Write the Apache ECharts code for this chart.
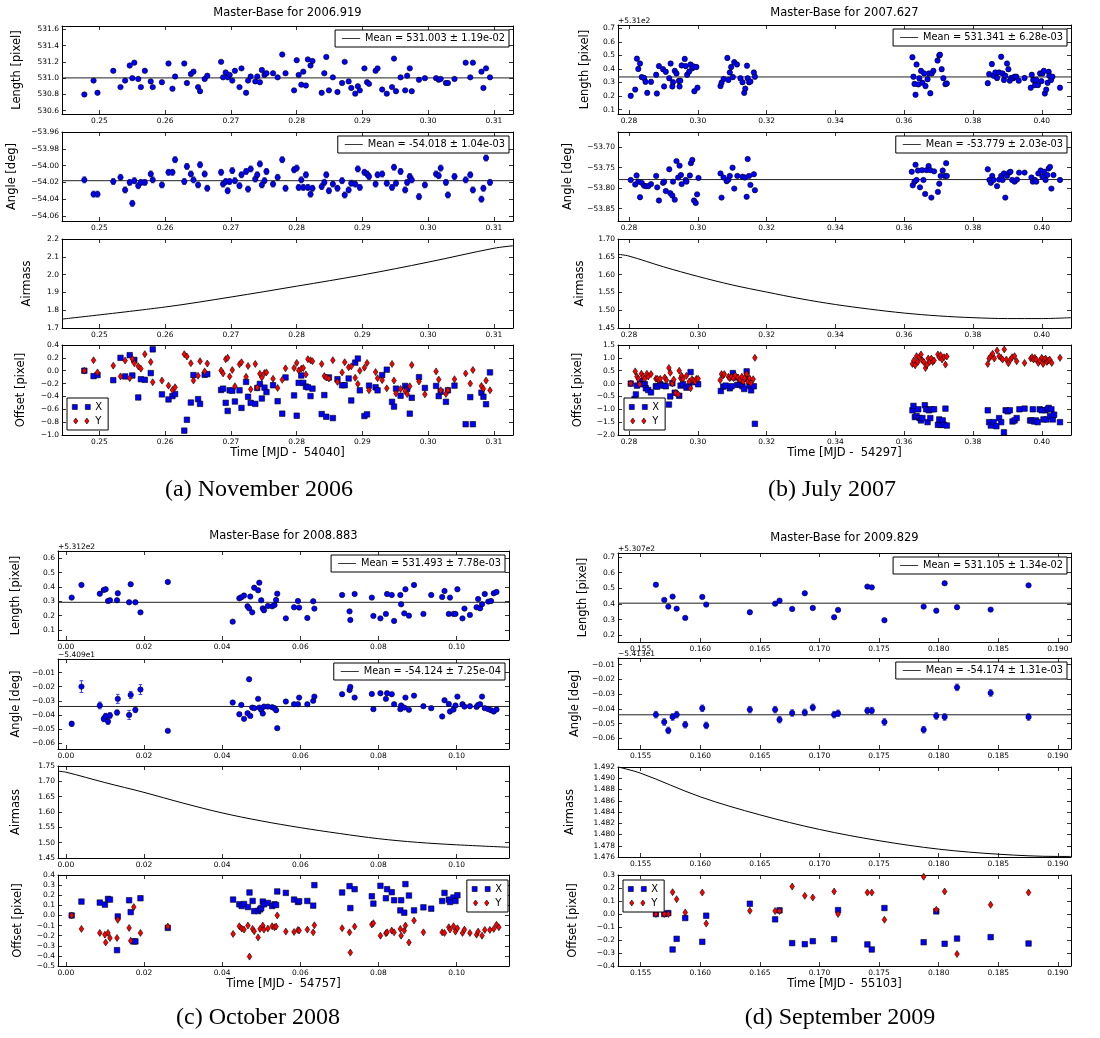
<!DOCTYPE html>
<html>
<head>
<meta charset="utf-8">
<title>Master-Base monitoring</title>
<script src="https://cdn.jsdelivr.net/npm/echarts@6/dist/echarts.min.js"></script>
<style>
  html, body { margin: 0; padding: 0; background: #fff; }
  #chart { width: 1100px; height: 1038px; }
</style>
</head>
<body>
<div id="chart"></div>
<script>
// ---------------- Panel (a): November 2006, MJD 54040 ----------------
const titleA = 'Master-Base for 2006.919';
const captionA = '(a) November 2006';
const xNameA = 'Time [MJD -  54040]';
const timeA = [0.2477,0.2491,0.2497,0.2521,0.2532,0.2539,0.2546,0.2550,0.2553,0.2559,
  0.2563,0.2569,0.2578,0.2581,0.2595,0.2605,0.2611,0.2615,0.2629,0.2633,
  0.2639,0.2643,0.2650,0.2653,0.2660,0.2664,0.2685,0.2688,0.2692,0.2695,
  0.2698,0.2702,0.2706,0.2713,0.2716,0.2723,0.2726,0.2730,0.2737,0.2740,
  0.2744,0.2747,0.2751,0.2754,0.2764,0.2771,0.2778,0.2783,0.2796,0.2800,
  0.2803,0.2807,0.2810,0.2814,0.2817,0.2821,0.2824,0.2838,0.2842,0.2845,
  0.2849,0.2855,0.2862,0.2869,0.2873,0.2879,0.2883,0.2889,0.2893,0.2896,
  0.2903,0.2907,0.2910,0.2920,0.2923,0.2930,0.2937,0.2945,0.2948,0.2951,
  0.2958,0.2965,0.2968,0.2972,0.2975,0.2986,0.2995,0.3012,0.3016,0.3019,
  0.3027,0.3030,0.3040,0.3057,0.3064,0.3068,0.3081,0.3084,0.3088,0.3094];
const lengthA = [530.80,530.97,530.82,531.09,530.89,530.97,531.155,531.00,531.19,530.99,
  530.89,531.09,530.96,530.89,530.95,531.18,530.87,531.02,531.18,530.94,
  531.05,531.08,530.89,530.84,530.99,531.03,531.20,531.01,531.07,531.01,
  531.04,530.97,531.09,530.89,531.12,530.82,530.97,531.02,530.96,531.02,
  530.95,531.10,531.04,531.06,531.06,531.01,531.29,531.06,530.85,531.22,
  531.04,530.92,531.08,530.91,531.23,531.155,531.21,530.82,531.06,531.26,
  530.85,531.01,530.83,530.94,531.20,530.96,530.88,530.81,530.90,530.85,
  531.12,530.95,530.93,531.09,531.12,530.86,530.81,530.89,531.24,530.84,
  531.01,530.85,531.03,531.12,530.84,530.98,531.00,531.00,530.98,530.99,
  530.94,530.94,530.99,531.19,531.01,531.19,531.08,530.88,531.12,531.01];
const angleA = [-54.017,-54.034,-54.034,-54.019,-54.014,-54.029,-54.020,-54.045,-54.018,-54.024,
  -54.020,-54.020,-54.010,-54.017,-54.023,-54.008,-54.008,-53.993,-54.019,-54.001,
  -54.010,-54.017,-54.023,-53.999,-54.010,-54.027,-54.008,-54.022,-54.019,-54.030,
  -54.019,-54.006,-54.018,-54.024,-54.011,-54.007,-54.028,-54.004,-54.016,-54.011,
  -53.998,-54.023,-54.018,-54.007,-54.022,-54.014,-53.993,-54.027,-54.005,-54.003,
  -54.026,-54.017,-54.026,-54.011,-54.026,-54.034,-54.027,-54.025,-54.020,-54.011,
  -54.030,-54.022,-54.027,-54.018,-54.035,-54.029,-54.021,-54.022,-54.004,-54.026,
  -54.008,-54.010,-54.013,-54.022,-54.011,-54.010,-54.021,-54.026,-54.002,-54.021,
  -54.007,-54.029,-54.020,-54.013,-54.017,-54.037,-54.023,-54.010,-54.012,-54.003,
  -54.020,-54.035,-54.013,-54.017,-54.011,-54.029,-54.040,-54.027,-53.991,-54.020];
const angleErrA = 0.0035;
const offXA = [0.0,-0.084,-0.068,-0.147,0.2,-0.089,0.242,-0.074,0.168,-0.416,
  -0.132,-0.142,-0.037,0.332,-0.368,-0.447,-0.395,-0.363,-0.932,-0.763,
  -0.495,-0.068,-0.442,-0.516,-0.063,-0.053,-0.3,-0.279,-0.5,-0.626,
  -0.305,-0.311,-0.479,-0.305,-0.579,-0.174,-0.405,-0.5,-0.516,-0.268,
  -0.205,-0.432,-0.263,-0.332,-0.226,-0.474,-0.668,-0.105,-0.384,-0.7,
  -0.189,-0.074,-0.189,-0.247,-0.258,-0.395,-0.279,-0.674,-0.379,-0.716,
  -0.105,-0.737,-0.132,-0.226,-0.226,-0.121,-0.463,0.126,0.189,-0.305,
  -0.705,-0.679,-0.232,-0.258,-0.305,-0.068,0.016,-0.484,-0.558,-0.279,
  -0.389,-0.237,-0.284,-0.668,-0.421,-0.1,-0.268,-0.237,-0.395,-0.326,
  -0.484,-0.305,-0.232,-0.832,-0.411,-0.832,-0.342,-0.405,-0.521,-0.026];
const offYA = [0.0,0.163,-0.026,0.079,-0.089,0.158,-0.116,0.184,0.116,0.068,
  0.032,0.258,0.137,-0.179,-0.153,-0.232,-0.3,-0.258,0.258,0.221,
  0.116,-0.153,-0.079,0.147,-0.011,0.111,0.005,-0.042,0.179,0.2,
  -0.089,0.011,-0.242,0.1,0.132,-0.095,0.074,-0.289,0.105,-0.263,
  -0.047,-0.105,-0.037,-0.026,-0.126,-0.268,-0.142,0.037,0.042,0.121,
  0.005,0.032,0.042,-0.058,0.179,0.163,0.147,0.105,-0.084,-0.105,
  -0.121,0.163,-0.174,-0.026,0.132,0.053,0.068,-0.111,-0.205,0.0,
  0.047,0.121,-0.305,-0.021,-0.116,-0.147,-0.274,0.105,-0.153,-0.353,
  -0.284,-0.316,-0.363,-0.242,0.089,-0.168,-0.368,-0.011,-0.137,-0.305,
  -0.363,-0.305,-0.132,-0.042,-0.2,0.011,-0.237,-0.279,-0.153,-0.305];
const airTimeA = [0.2443,0.26,0.27,0.28,0.29,0.30,0.31,0.3129];
const airmassA = [1.750,1.818,1.874,1.935,1.998,2.070,2.148,2.162];
const meanLenA = 531.003, meanLenErrA = 0.0119;
const meanAngA = -54.018, meanAngErrA = 0.00104;
const ticksXA = [0.25,0.26,0.27,0.28,0.29,0.30,0.31];
const ticksLenA = [530.6,530.8,531.0,531.2,531.4,531.6];
const ticksAngA = [-54.06,-54.04,-54.02,-54.00,-53.98,-53.96];
const ticksAirA = [1.7,1.8,1.9,2.0,2.1,2.2];
const ticksOffA = [-1.0,-0.8,-0.6,-0.4,-0.2,0.0,0.2,0.4];

// ---------------- Panel (b): July 2007, MJD 54297 ----------------
const titleB = 'Master-Base for 2007.627';
const captionB = '(b) July 2007';
const xNameB = 'Time [MJD -  54297]';
const lengthB = [[0.2805,531.202],[0.2818,531.248],[0.2823,531.476],[0.2827,531.400],[0.2832,531.440],[0.2837,531.340],[0.2844,531.333],[0.2848,531.305],[0.2853,531.224],[0.2864,531.305],
  [0.2879,531.357],[0.2881,531.219],[0.2887,531.421],[0.2899,531.398],[0.2902,531.271],[0.2907,531.379],[0.2917,531.331],[0.2921,531.440],[0.2926,531.271],[0.2928,531.302],
  [0.2933,531.386],[0.2938,531.367],[0.2945,531.312],[0.2947,531.271],[0.2949,531.314],[0.2953,531.426],[0.2962,531.474],[0.2965,531.421],[0.2969,531.357],[0.2975,531.381],
  [0.2979,531.433],[0.2984,531.405],[0.2987,531.419],[0.2990,531.236],[0.2996,531.414],[0.2999,531.262],
  [0.3066,531.274],[0.3069,531.298],[0.3075,531.326],[0.3086,531.481],[0.3089,531.319],[0.3093,531.374],[0.3097,531.414],[0.3102,531.340],[0.3106,531.450],[0.3114,531.433],
  [0.3124,531.331],[0.3130,531.302],[0.3135,531.224],[0.3138,531.255],[0.3143,531.424],[0.3145,531.331],[0.3149,531.302],[0.3153,531.307],[0.3163,531.374],[0.3166,531.343],
  [0.3624,531.486],[0.3627,531.343],[0.3630,531.290],[0.3633,531.210],[0.3636,531.433],[0.3641,531.286],[0.3644,531.331],[0.3649,531.386],[0.3653,531.298],[0.3658,531.367],
  [0.3662,531.274],[0.3668,531.324],[0.3672,531.367],[0.3676,531.221],[0.3680,531.367],[0.3685,531.386],[0.3697,531.462],[0.3702,531.500],[0.3704,531.505],[0.3709,531.398],
  [0.3714,531.331],[0.3720,531.288],[0.3724,531.293],
  [0.3843,531.295],[0.3847,531.362],[0.3855,531.436],[0.3860,531.350],[0.3865,531.374],[0.3870,531.333],[0.3876,531.374],[0.3882,531.490],[0.3886,531.367],[0.3890,531.319],
  [0.3894,531.350],[0.3899,531.440],[0.3903,531.398],[0.3907,531.314],[0.3911,531.333],[0.3917,531.331],[0.3921,531.343],[0.3926,531.343],[0.3933,531.314],[0.3950,531.333],
  [0.3968,531.262],[0.3971,531.357],[0.3975,531.319],[0.3980,531.281],[0.3984,531.319],[0.3989,531.281],[0.3995,531.367],[0.3999,531.310],[0.4002,531.367],[0.4006,531.386],
  [0.4009,531.219],[0.4013,531.248],[0.4017,531.298],[0.4020,531.379],[0.4022,531.350],[0.4027,531.319],[0.4031,531.343],[0.4053,531.262]];
const lengthErrB = 0.015;
const angleB = [[0.2805,-53.780],[0.2818,-53.791],[0.2822,-53.769],[0.2827,-53.784],[0.2832,-53.822],[0.2837,-53.787],[0.2844,-53.794],[0.2850,-53.795],[0.2856,-53.795],[0.2864,-53.790],
  [0.2879,-53.770],[0.2882,-53.798],[0.2887,-53.830],[0.2899,-53.787],[0.2902,-53.784],[0.2907,-53.807],[0.2917,-53.754],[0.2920,-53.812],[0.2926,-53.818],[0.2928,-53.784],
  [0.2933,-53.828],[0.2938,-53.734],[0.2943,-53.774],[0.2947,-53.745],[0.2951,-53.768],[0.2953,-53.790],[0.2965,-53.780],[0.2967,-53.784],[0.2977,-53.769],[0.2980,-53.739],
  [0.2984,-53.731],[0.2989,-53.830],[0.2994,-53.836],[0.2998,-53.815],[0.3002,-53.775],
  [0.3066,-53.764],[0.3069,-53.823],[0.3075,-53.774],[0.3084,-53.783],[0.3089,-53.779],[0.3093,-53.770],[0.3101,-53.750],[0.3106,-53.801],[0.3115,-53.770],[0.3130,-53.772],
  [0.3137,-53.774],[0.3142,-53.821],[0.3145,-53.729],[0.3149,-53.770],[0.3153,-53.792],[0.3163,-53.766],[0.3166,-53.805],
  [0.3622,-53.760],[0.3625,-53.793],[0.3630,-53.784],[0.3633,-53.743],[0.3636,-53.780],[0.3640,-53.757],[0.3646,-53.798],[0.3652,-53.756],[0.3656,-53.780],[0.3661,-53.814],
  [0.3665,-53.756],[0.3671,-53.746],[0.3676,-53.756],[0.3679,-53.823],[0.3687,-53.759],[0.3698,-53.809],[0.3702,-53.789],[0.3706,-53.770],[0.3712,-53.757],[0.3718,-53.770],
  [0.3722,-53.739],[0.3724,-53.770],
  [0.3843,-53.754],[0.3848,-53.780],[0.3852,-53.787],[0.3856,-53.770],[0.3860,-53.780],[0.3870,-53.795],[0.3876,-53.779],[0.3882,-53.770],[0.3886,-53.780],[0.3890,-53.764],
  [0.3894,-53.823],[0.3899,-53.770],[0.3905,-53.762],[0.3909,-53.760],[0.3914,-53.780],[0.3921,-53.784],[0.3928,-53.779],[0.3934,-53.762],[0.3950,-53.762],[0.3970,-53.774],
  [0.3974,-53.784],[0.3980,-53.780],[0.3984,-53.784],[0.3990,-53.764],[0.3997,-53.757],[0.4002,-53.772],[0.4007,-53.760],[0.4011,-53.780],[0.4016,-53.768],[0.4020,-53.752],
  [0.4024,-53.748],[0.4028,-53.801],[0.4034,-53.768],[0.4053,-53.780]];
const offXB = [[0.2805,0.0],[0.2816,-0.605],[0.2820,-0.421],[0.2823,-0.079],[0.2832,0.105],[0.2841,-0.026],[0.2846,-0.026],[0.2849,-0.184],[0.2856,-0.25],[0.2864,-0.342],
  [0.2878,-0.105],[0.2882,-0.118],[0.2891,-0.026],[0.2899,-0.079],[0.2907,-0.105],[0.2916,-0.816],[0.2920,-0.5],[0.2926,0.013],[0.2933,-0.355],[0.2946,-0.474],
  [0.2950,-0.079],[0.2957,-0.026],[0.2967,-0.158],[0.2975,-0.105],[0.2979,0.447],[0.2986,0.053],[0.3001,-0.026],
  [0.3067,-0.289],[0.3074,-0.118],[0.3081,-0.079],[0.3093,-0.184],[0.3098,-0.105],[0.3102,0.408],[0.3109,0.237],[0.3115,-0.053],[0.3123,-0.026],[0.3130,-0.105],
  [0.3135,-0.211],[0.3142,0.474],[0.3145,0.184],[0.3150,-0.079],[0.3155,-0.263],[0.3163,-0.105],[0.3166,-1.566],
  [0.3624,-1.039],[0.3627,-0.868],[0.3631,-1.303],[0.3636,-1.263],[0.3641,-1.0],[0.3645,-1.342],[0.3649,-1.434],[0.3653,-1.342],[0.3660,-0.842],[0.3664,-1.0],
  [0.3668,-1.5],[0.3672,-1.039],[0.3676,-1.342],[0.3680,-1.0],[0.3687,-1.0],[0.3698,-1.605],[0.3702,-1.395],[0.3706,-1.605],[0.3712,-1.434],[0.3716,-1.605],
  [0.3720,-0.974],[0.3724,-1.632],
  [0.3843,-1.039],[0.3847,-1.5],[0.3852,-1.632],[0.3860,-1.5],[0.3868,-1.658],[0.3876,-1.342],[0.3882,-1.5],[0.3890,-1.895],[0.3895,-1.039],[0.3901,-1.079],
  [0.3907,-1.039],[0.3915,-1.474],[0.3921,-1.434],[0.3927,-1.342],[0.3935,-1.0],[0.3950,-0.974],[0.3966,-1.434],[0.3970,-1.434],[0.3974,-1.0],[0.3978,-1.474],
  [0.3983,-1.434],[0.3988,-1.5],[0.3994,-1.0],[0.4000,-1.039],[0.4005,-1.395],[0.4010,-1.039],[0.4014,-1.395],[0.4017,-1.0],[0.4020,-0.947],[0.4024,-1.263],
  [0.4028,-1.0],[0.4032,-1.395],[0.4036,-1.211],[0.4053,-1.5]];
const offYB = [[0.2805,0.0],[0.2818,0.474],[0.2823,0.276],[0.2827,0.184],[0.2831,-0.026],[0.2836,0.382],[0.2841,0.276],[0.2846,0.184],[0.2852,0.382],[0.2856,0.276],
  [0.2864,0.368],[0.2878,0.184],[0.2882,0.184],[0.2887,0.132],[0.2891,0.184],[0.2904,0.237],[0.2909,0.132],[0.2916,0.605],[0.2920,0.421],[0.2926,0.0],
  [0.2930,0.158],[0.2936,-0.368],[0.2943,-0.421],[0.2946,0.5],[0.2950,0.211],[0.2953,0.303],[0.2957,0.184],[0.2967,0.303],[0.2975,0.079],[0.2979,-0.184],
  [0.2983,0.171],[0.2988,0.105],[0.2993,0.079],[0.2996,0.184],[0.3001,0.184],
  [0.3065,0.132],[0.3069,0.368],[0.3073,0.303],[0.3077,0.368],[0.3089,0.263],[0.3093,0.211],[0.3098,0.263],[0.3104,0.211],[0.3109,0.316],[0.3117,0.237],
  [0.3123,0.145],[0.3128,0.263],[0.3132,0.079],[0.3136,0.211],[0.3142,0.368],[0.3146,0.079],[0.3150,0.211],[0.3154,0.013],[0.3161,0.171],[0.3166,1.0],
  [0.3624,0.763],[0.3628,0.895],[0.3632,0.711],[0.3636,1.066],[0.3640,0.842],[0.3644,1.026],[0.3649,1.132],[0.3653,0.895],[0.3657,0.842],[0.3662,0.605],
  [0.3666,0.724],[0.3670,0.974],[0.3674,0.842],[0.3679,0.974],[0.3683,0.842],[0.3687,0.895],[0.3698,1.132],[0.3702,1.026],[0.3706,1.105],[0.3710,0.934],
  [0.3716,1.026],[0.3720,0.737],[0.3724,1.053],
  [0.3843,0.763],[0.3847,0.974],[0.3852,1.066],[0.3857,1.158],[0.3862,0.974],[0.3870,1.289],[0.3876,1.066],[0.3882,1.0],[0.3886,0.934],[0.3891,1.329],
  [0.3897,0.934],[0.3903,0.789],[0.3909,0.934],[0.3914,1.026],[0.3921,1.066],[0.3927,0.868],[0.3950,0.803],[0.3968,0.974],[0.3972,1.026],[0.3976,0.934],
  [0.3980,1.0],[0.3984,0.934],[0.3990,0.803],[0.3995,0.895],[0.4000,1.0],[0.4004,0.763],[0.4007,0.934],[0.4011,0.974],[0.4015,0.842],[0.4019,0.895],
  [0.4023,0.934],[0.4029,0.803],[0.4053,1.0]];
const airTimeB = [0.2768,0.28,0.29,0.30,0.31,0.32,0.33,0.34,0.35,0.36,0.37,0.38,0.39,0.40,0.4085];
const airmassB = [1.657,1.652,1.622,1.595,1.571,1.551,1.532,1.516,1.503,1.492,1.484,1.479,1.4765,1.4765,1.479];
const meanLenB = 531.341, meanLenErrB = 0.00628;
const meanAngB = -53.779, meanAngErrB = 0.00203;
const ticksXB = [0.28,0.30,0.32,0.34,0.36,0.38,0.40];
const lenOffsetB = 531;
const ticksLenB = [0.1,0.2,0.3,0.4,0.5,0.6,0.7];
const ticksAngB = [-53.85,-53.80,-53.75,-53.70];
const ticksAirB = [1.45,1.50,1.55,1.60,1.65,1.70];
const ticksOffB = [-2.0,-1.5,-1.0,-0.5,0.0,0.5,1.0,1.5];

// ---------------- Panel (c): October 2008, MJD 54757 ----------------
const titleC = 'Master-Base for 2008.883';
const captionC = '(c) October 2008';
const xNameC = 'Time [MJD -  54757]';
const timeC = [0.0015,0.0040,0.0087,0.0097,0.0102,0.0108,0.0113,0.0131,0.0133,0.0162,
  0.0166,0.0178,0.0191,0.0261,0.0427,0.0444,0.0449,0.0456,0.0465,0.0469,
  0.0472,0.0477,0.0482,0.0492,0.0495,0.0500,0.0504,0.0507,0.0517,0.0528,
  0.0534,0.0538,0.0541,0.0563,0.0584,0.0594,0.0597,0.0618,0.0633,0.0636,
  0.0707,0.0726,0.0728,0.0739,0.0783,0.0787,0.0805,0.0819,0.0822,0.0834,
  0.0840,0.0856,0.0858,0.0866,0.0869,0.0878,0.0891,0.0915,0.0935,0.0963,
  0.0969,0.0980,0.0983,0.0992,0.0997,0.1002,0.1015,0.1020,0.1034,0.1051,
  0.1055,0.1060,0.1065,0.1072,0.1081,0.1088,0.1095,0.1102];
const lengthC = [531.526,531.614,531.553,531.579,531.584,531.502,531.507,531.507,531.556,531.493,
  531.619,531.493,531.423,531.635,531.358,531.521,531.528,531.540,531.465,531.451,
  531.533,531.423,531.595,531.577,531.630,531.507,531.451,531.437,531.467,531.465,
  531.474,531.509,531.553,531.381,531.458,531.502,531.456,531.384,531.500,531.449,
  531.544,531.430,531.370,531.551,531.526,531.398,531.381,531.412,531.551,531.544,
  531.363,531.544,531.479,531.416,531.584,531.400,531.614,531.412,531.544,531.530,
  531.572,531.412,531.526,531.412,531.412,531.584,531.381,531.449,531.405,531.458,
  531.516,531.451,531.479,531.551,531.498,531.502,531.556,531.565];
const angleC = [-54.1363,-54.1099,-54.1233,-54.1328,-54.1309,-54.1347,-54.1304,-54.1283,-54.1186,-54.1300,
  -54.1158,-54.1264,-54.1120,-54.1413,-54.1212,-54.1295,-54.1229,-54.1328,-54.1288,-54.1047,
  -54.1307,-54.1248,-54.1252,-54.1186,-54.1248,-54.1264,-54.1290,-54.1241,-54.1241,-54.1245,
  -54.1252,-54.1267,-54.1394,-54.1205,-54.1224,-54.1224,-54.1177,-54.1224,-54.1200,-54.1170,
  -54.1153,-54.1123,-54.1101,-54.1177,-54.1151,-54.1259,-54.1146,-54.1186,-54.1146,-54.1153,
  -54.1224,-54.1259,-54.1233,-54.1248,-54.1177,-54.1264,-54.1163,-54.1238,-54.1252,-54.1311,
  -54.1196,-54.1222,-54.1276,-54.1262,-54.1233,-54.1170,-54.1224,-54.1241,-54.1238,-54.1243,
  -54.1229,-54.1224,-54.1170,-54.1252,-54.1259,-54.1267,-54.1276,-54.1262];
// the first exposures of the night carry larger angle uncertainties
const angleErrC = [0.0017,0.0042,0.0024,0.002,0.002,0.002,0.002,0.0017,0.0032,0.0032,0.0025,0.002,0.0035,0.0008];
const angleErrRestC = 0.0008;
const offXC = [[0.0015,0.0],[0.0040,0.137],[0.0087,0.127],[0.0100,0.107],[0.0108,0.163],[0.0113,0.157],[0.0131,-0.343],[0.0133,-0.010],[0.0162,0.150],[0.0166,0.033],
  [0.0174,-0.257],[0.0178,-0.257],[0.0191,0.170],[0.0261,-0.123],[0.0428,0.157],[0.0444,0.110],[0.0450,0.093],[0.0456,0.113],[0.0466,0.083],[0.0470,0.227],
  [0.0478,0.143],[0.0482,0.043],[0.0492,0.043],[0.0497,0.060],[0.0500,0.073],[0.0504,0.137],[0.0507,0.110],[0.0517,0.123],[0.0528,0.093],[0.0534,0.110],
  [0.0538,0.103],[0.0541,0.237],[0.0563,0.223],[0.0584,0.157],[0.0594,0.133],[0.0597,0.140],[0.0618,0.143],[0.0633,0.097],[0.0636,0.300],[0.0707,0.227],
  [0.0726,0.290],[0.0728,0.073],[0.0739,0.260],[0.0783,0.190],[0.0787,0.117],[0.0805,0.293],[0.0819,0.170],[0.0822,0.260],[0.0834,0.230],[0.0840,0.150],
  [0.0856,0.050],[0.0858,0.150],[0.0866,0.027],[0.0869,0.310],[0.0878,0.197],[0.0891,0.050],[0.0915,0.080],[0.0935,0.067],[0.0963,0.143],[0.0969,0.223],
  [0.0980,0.157],[0.0983,0.133],[0.0992,0.177],[0.0997,0.143],[0.1002,0.200]];
const offYC = [[0.0015,0.0],[0.0040,-0.133],[0.0087,-0.173],[0.0100,-0.190],[0.0102,-0.267],[0.0108,-0.173],[0.0113,-0.223],[0.0131,-0.223],[0.0133,-0.043],[0.0162,-0.123],
  [0.0166,-0.250],[0.0174,0.083],[0.0191,-0.173],[0.0261,-0.110],[0.0428,-0.183],[0.0444,-0.107],[0.0450,-0.130],[0.0456,-0.140],[0.0466,-0.100],[0.0470,-0.407],
  [0.0478,-0.133],[0.0482,-0.157],[0.0492,-0.217],[0.0497,-0.133],[0.0504,-0.100],[0.0507,-0.140],[0.0517,-0.130],[0.0528,-0.107],[0.0534,-0.117],[0.0538,-0.110],
  [0.0541,0.0],[0.0563,-0.160],[0.0584,-0.163],[0.0594,-0.143],[0.0597,-0.150],[0.0618,-0.140],[0.0633,-0.167],[0.0636,-0.097],[0.0707,-0.127],[0.0726,-0.167],
  [0.0728,-0.367],[0.0739,-0.110],[0.0783,-0.090],[0.0787,-0.077],[0.0805,-0.200],[0.0819,-0.177],[0.0822,-0.167],[0.0834,-0.150],[0.0840,-0.167],[0.0856,-0.133],
  [0.0858,-0.200],[0.0866,-0.150],[0.0869,-0.100],[0.0878,-0.267],[0.0891,-0.050],[0.0915,-0.167],[0.0963,-0.167],[0.0969,-0.173],[0.0980,-0.117],[0.0983,-0.140],
  [0.0992,-0.107],[0.0997,-0.160],[0.1002,-0.127],[0.1015,-0.173],[0.1020,-0.140],[0.1034,-0.173],[0.1051,-0.190],[0.1055,-0.160],[0.1065,-0.200],[0.1072,-0.143],
  [0.1085,-0.143],[0.1095,-0.133],[0.1102,-0.093],[0.1108,-0.117]];
const airTimeC = [-0.002,0.00,0.01,0.02,0.03,0.04,0.05,0.06,0.07,0.08,0.09,0.10,0.1134];
const airmassC = [1.733,1.730,1.696,1.664,1.629,1.597,1.571,1.549,1.530,1.513,1.501,1.493,1.485];
const meanLenC = 531.493, meanLenErrC = 0.00778;
const meanAngC = -54.124, meanAngErrC = 0.000725;
const ticksXC = [0.00,0.02,0.04,0.06,0.08,0.10];
const lenOffsetC = 531.2;
const ticksLenC = [0.1,0.2,0.3,0.4,0.5,0.6];
const angOffsetC = -54.09;
const ticksAngC = [-0.06,-0.05,-0.04,-0.03,-0.02,-0.01];
const ticksAirC = [1.45,1.50,1.55,1.60,1.65,1.70,1.75];
const ticksOffC = [-0.5,-0.4,-0.3,-0.2,-0.1,0.0,0.1,0.2,0.3,0.4];

// ---------------- Panel (d): September 2009, MJD 55103 ----------------
const titleD = 'Master-Base for 2009.829';
const captionD = '(d) September 2009';
const xNameD = 'Time [MJD -  55103]';
const timeD = [0.15628,0.15698,0.15732,0.15768,0.15802,0.15874,0.16017,0.16050,0.16416,0.16628,
  0.16665,0.16771,0.16877,0.16944,0.17123,0.17156,0.17402,0.17439,0.17545,0.17874,
  0.17980,0.18050,0.18154,0.18436,0.18754];
const lengthD = [531.223,531.126,531.083,531.147,531.070,531.011,531.145,531.096,531.047,531.102,
  531.121,531.068,531.168,531.074,531.015,531.062,531.211,531.206,530.996,531.083,
  531.057,531.232,531.079,531.064,531.219];
const angleD = [-54.1739,-54.1789,-54.1846,-54.1755,-54.1739,-54.1807,-54.1696,-54.1812,-54.1705,-54.1705,
  -54.1773,-54.1728,-54.1724,-54.1690,-54.1739,-54.1730,-54.1712,-54.1712,-54.1789,-54.1841,
  -54.1748,-54.1755,-54.1554,-54.1592,-54.1755];
const angleErrD = 0.0022;
const offXD = [0.0,0.0,0.007,-0.273,-0.191,-0.031,-0.214,-0.013,0.079,-0.041,
  0.028,-0.224,-0.232,-0.209,-0.194,0.030,-0.234,-0.273,0.046,-0.217,
  0.020,-0.229,-0.189,-0.178,-0.227];
const offYD = [0.0,0.0,0.0,0.168,0.114,0.012,0.165,-0.074,0.025,0.023,
  0.023,0.211,0.140,0.127,0.173,0.0,0.165,0.165,-0.044,0.287,
  0.033,0.173,-0.308,0.071,0.165];
const airTimeD = [0.1531,0.155,0.160,0.165,0.170,0.175,0.180,0.185,0.190,0.1911];
const airmassD = [1.4920,1.4909,1.4867,1.4835,1.4809,1.4789,1.4774,1.4765,1.4761,1.4761];
const meanLenD = 531.105, meanLenErrD = 0.0134;
const meanAngD = -54.174, meanAngErrD = 0.00131;
const ticksXD = [0.155,0.160,0.165,0.170,0.175,0.180,0.185,0.190];
const lenOffsetD = 530.7;
const ticksLenD = [0.2,0.3,0.4,0.5,0.6,0.7];
const angOffsetD = -54.13;
const ticksAngD = [-0.06,-0.05,-0.04,-0.03,-0.02,-0.01];
const ticksAirD = [1.476,1.478,1.480,1.482,1.484,1.486,1.488,1.490,1.492];
const ticksOffD = [-0.4,-0.3,-0.2,-0.1,0.0,0.1,0.2,0.3];

// ---------------- drawing ----------------
const FONT = 'DejaVu Sans';
const SERIF = 'Liberation Serif';
const TICK_FONT = 7.5;
const NAME_FONT = 11.5;
const BLUE = '#0000ff';
const RED = '#ff0000';
const ERR_BLUE = '#3a3aff';
const MARK_X = { color: BLUE, borderColor: '#000', borderWidth: 0.6, opacity: 1 };
const MARK_Y = { color: RED, borderColor: '#000', borderWidth: 0.6, opacity: 1 };

const option = {
  animation: false,
  backgroundColor: '#ffffff',
  grid: [], xAxis: [], yAxis: [], series: [], legend: [], graphic: []
};

function fmtNum(v, dec) {
  const r = Number(v.toFixed(dec));
  const s = Math.abs(r).toFixed(dec);
  return (r < 0 ? '\u2212' : '') + s;
}
function fmtErr(e) {
  const exp = Math.floor(Math.log10(e));
  const mant = e / Math.pow(10, exp);
  const sign = exp < 0 ? '-' : '+';
  return mant.toFixed(2) + 'e' + sign + String(Math.abs(exp)).padStart(2, '0');
}
function meanLabel(m, e) { return 'Mean = ' + m.toFixed(3) + ' \u00b1 ' + fmtErr(e); }

function addPlot(c) {
  const gi = option.grid.length;
  const [l, t, r, b] = c.box;
  option.grid.push({ left: l, top: t, width: r - l, height: b - t, show: false, containLabel: false });
  const yOff = c.y.off || 0;
  const xt = c.x.ticks.slice();
  const yt = c.y.ticks.map(v => v + yOff);
  const line = { show: true, onZero: false, lineStyle: { color: '#000', width: 1 } };
  const tick = vals => ({ show: true, inside: true, length: 4, customValues: vals, lineStyle: { color: '#000', width: 0.8 } });
  const lab = { fontSize: TICK_FONT, fontFamily: FONT, color: '#000' };
  option.xAxis.push({
    type: 'value', gridIndex: gi, position: 'bottom', min: c.x.min, max: c.x.max,
    axisLine: line, axisTick: tick(xt), splitLine: { show: false },
    axisLabel: Object.assign({ customValues: xt, margin: 3, formatter: v => fmtNum(v, c.x.dec) }, lab),
    name: c.xName || '', nameLocation: 'middle', nameGap: 11,
    nameTextStyle: { fontSize: NAME_FONT, fontFamily: FONT, color: '#000' }
  });
  option.xAxis.push({
    type: 'value', gridIndex: gi, position: 'top', min: c.x.min, max: c.x.max,
    axisLine: line, axisTick: tick(xt), splitLine: { show: false }, axisLabel: { show: false }
  });
  option.yAxis.push({
    type: 'value', gridIndex: gi, position: 'left', min: c.y.min, max: c.y.max,
    axisLine: line, axisTick: tick(yt), splitLine: { show: false },
    axisLabel: Object.assign({ customValues: yt, margin: 3, formatter: v => fmtNum(v - yOff, c.y.dec) }, lab),
    name: c.yName, nameLocation: 'middle', nameRotate: 90, nameGap: c.yGap,
    nameTextStyle: { fontSize: NAME_FONT, fontFamily: FONT, color: '#000' }
  });
  option.yAxis.push({
    type: 'value', gridIndex: gi, position: 'right', min: c.y.min, max: c.y.max,
    axisLine: line, axisTick: tick(yt), splitLine: { show: false }, axisLabel: { show: false }
  });
  if (c.offsetText) {
    option.graphic.push({
      type: 'text', x: l, y: t - 4, silent: true,
      style: { text: c.offsetText, font: TICK_FONT + 'px ' + FONT, fill: '#000', align: 'left', verticalAlign: 'middle' }
    });
  }
  return { xAxisIndex: 2 * gi, yAxisIndex: 2 * gi, box: c.box, x: c.x };
}

function circles(ax, data) {
  option.series.push({
    type: 'scatter', xAxisIndex: ax.xAxisIndex, yAxisIndex: ax.yAxisIndex, data,
    symbol: 'circle', symbolSize: 5.4, silent: true, z: 3, itemStyle: MARK_X
  });
}
function errorBars(ax, data) {
  option.series.push({
    type: 'custom', xAxisIndex: ax.xAxisIndex, yAxisIndex: ax.yAxisIndex, data,
    encode: { x: 0, y: [1, 2] }, silent: true, z: 2, clip: true,
    renderItem: (params, api) => {
      const p1 = api.coord([api.value(0), api.value(1)]);
      const p2 = api.coord([api.value(0), api.value(2)]);
      const st = { stroke: ERR_BLUE, lineWidth: 1 };
      const cap = 1.8;
      return {
        type: 'group', children: [
          { type: 'line', shape: { x1: p1[0], y1: p1[1], x2: p2[0], y2: p2[1] }, style: st },
          { type: 'line', shape: { x1: p1[0] - cap, y1: p1[1], x2: p1[0] + cap, y2: p1[1] }, style: st },
          { type: 'line', shape: { x1: p2[0] - cap, y1: p2[1], x2: p2[0] + cap, y2: p2[1] }, style: st }
        ]
      };
    }
  });
}
const ICON_LINE = 'path://M0,0H20V1H0Z';
function meanLine(ax, mean, err) {
  const name = meanLabel(mean, err);
  option.series.push({
    type: 'line', name, xAxisIndex: ax.xAxisIndex, yAxisIndex: ax.yAxisIndex,
    data: [[ax.x.min, mean], [ax.x.max, mean]], symbol: 'none', silent: true, z: 2,
    lineStyle: { color: '#222', width: 1 }, itemStyle: { color: '#222' }
  });
  const [l, t, r] = ax.box;
  option.legend.push({
    show: true, data: [{ name, icon: ICON_LINE }], right: 1100 - r + 4, top: t + 4, orient: 'horizontal',
    backgroundColor: '#fff', borderColor: '#000', borderWidth: 1, borderRadius: 0,
    padding: [3.5, 4, 3.5, 7], itemWidth: 18, itemHeight: 1.3, itemTextGap: 7, selectedMode: false, z: 10,
    textStyle: { fontSize: 9.8, fontFamily: FONT, color: '#000' }
  });
}
function airmassLine(ax, times, vals) {
  option.series.push({
    type: 'line', xAxisIndex: ax.xAxisIndex, yAxisIndex: ax.yAxisIndex,
    data: times.map((t, i) => [t, vals[i]]), symbol: 'none', smooth: 0.35,
    silent: true, lineStyle: { color: '#000', width: 1 }, z: 2
  });
}
const ICON_X = 'path://M0,0h5v5h-5z M13,0h5v5h-5z';
const ICON_Y = 'path://M2.5,0L5,3.5L2.5,7L0,3.5z M15.5,0L18,3.5L15.5,7L13,3.5z';
function offsets(ax, tag, xData, yData, pos) {
  const nx = 'X ' + tag, ny = 'Y ' + tag;
  option.series.push({
    type: 'scatter', name: nx, xAxisIndex: ax.xAxisIndex, yAxisIndex: ax.yAxisIndex, data: xData,
    symbol: 'rect', symbolSize: 5.5, silent: true, z: 3, itemStyle: MARK_X
  });
  option.series.push({
    type: 'scatter', name: ny, xAxisIndex: ax.xAxisIndex, yAxisIndex: ax.yAxisIndex, data: yData,
    symbol: 'diamond', symbolSize: [4.6, 7], silent: true, z: 4, itemStyle: MARK_Y
  });
  option.legend.push(Object.assign({
    show: true, orient: 'vertical', selectedMode: false, z: 10,
    data: [
      { name: nx, icon: ICON_X, itemStyle: Object.assign({}, MARK_X) },
      { name: ny, icon: ICON_Y, itemStyle: Object.assign({}, MARK_Y) }
    ],
    formatter: n => n.charAt(0),
    backgroundColor: '#fff', borderColor: '#000', borderWidth: 1, borderRadius: 0,
    padding: [4, 6, 4, 5], itemWidth: 18, itemHeight: 6, itemGap: 4, itemTextGap: 7,
    textStyle: { fontSize: 10, fontFamily: FONT, color: '#000' }
  }, pos));
}
const zip = (ts, vs) => ts.map((t, i) => [t, vs[i]]);
function titleText(x, y, text) {
  option.graphic.push({ type: 'text', x, y, silent: true,
    style: { text, font: '11.5px ' + FONT, fill: '#000', align: 'center', verticalAlign: 'middle' } });
}
function captionText(x, y, text) {
  option.graphic.push({ type: 'text', x, y, silent: true,
    style: { text, font: '24px ' + SERIF, fill: '#000', align: 'center', verticalAlign: 'middle' } });
}

// ---- panel (a)
{
  const L = 62, R = 513, xa = { min: 0.2443, max: 0.3129, ticks: ticksXA, dec: 2 };
  const len = addPlot({ box: [L, 26, R, 114], x: xa, y: { min: 530.56, max: 531.64, ticks: ticksLenA, dec: 1 }, yName: 'Length [pixel]', yGap: 38.5 });
  circles(len, zip(timeA, lengthA));
  meanLine(len, meanLenA, meanLenErrA);
  const ang = addPlot({ box: [L, 132, R, 221], x: xa, y: { min: -54.066, max: -53.96, ticks: ticksAngA, dec: 2 }, yName: 'Angle [deg]', yGap: 43.5 });
  errorBars(ang, timeA.map((t, i) => [t, angleA[i] - angleErrA, angleA[i] + angleErrA]));
  circles(ang, zip(timeA, angleA));
  meanLine(ang, meanAngA, meanAngErrA);
  const air = addPlot({ box: [L, 239, R, 328], x: xa, y: { min: 1.7, max: 2.2, ticks: ticksAirA, dec: 1 }, yName: 'Airmass', yGap: 28.5 });
  airmassLine(air, airTimeA, airmassA);
  const off = addPlot({ box: [L, 345, R, 435], x: xa, y: { min: -1.0, max: 0.4, ticks: ticksOffA, dec: 1 }, yName: 'Offset [pixel]', yGap: 34.5, xName: xNameA });
  offsets(off, '(a)', zip(timeA, offXA), zip(timeA, offYA), { left: 67, top: 398 });
  titleText((L + R) / 2, 13, titleA);
  captionText(259, 490, captionA);
}
// ---- panel (b)
{
  const L = 618, R = 1071, xb = { min: 0.2768, max: 0.4085, ticks: ticksXB, dec: 2 };
  const len = addPlot({ box: [L, 25, R, 114], x: xb, y: { min: 531.068, max: 531.724, ticks: ticksLenB, off: lenOffsetB, dec: 1 }, yName: 'Length [pixel]', yGap: 26.5, offsetText: '+5.31e2' });
  errorBars(len, lengthB.map(p => [p[0], p[1] - lengthErrB, p[1] + lengthErrB]));
  circles(len, lengthB);
  meanLine(len, meanLenB, meanLenErrB);
  const ang = addPlot({ box: [L, 132, R, 221], x: xb, y: { min: -53.88, max: -53.663, ticks: ticksAngB, dec: 2 }, yName: 'Angle [deg]', yGap: 43.5 });
  circles(ang, angleB);
  meanLine(ang, meanAngB, meanAngErrB);
  const air = addPlot({ box: [L, 239, R, 328], x: xb, y: { min: 1.45, max: 1.70, ticks: ticksAirB, dec: 2 }, yName: 'Airmass', yGap: 31.5 });
  airmassLine(air, airTimeB, airmassB);
  const off = addPlot({ box: [L, 345, R, 435], x: xb, y: { min: -2.0, max: 1.5, ticks: ticksOffB, dec: 1 }, yName: 'Offset [pixel]', yGap: 33.5, xName: xNameB });
  offsets(off, '(b)', offXB, offYB, { left: 624, top: 398 });
  titleText((L + R) / 2, 13, titleB);
  captionText(832, 490, captionB);
}
// ---- panel (c)
{
  const L = 58, R = 509, xc = { min: -0.002, max: 0.1134, ticks: ticksXC, dec: 2 };
  const len = addPlot({ box: [L, 551, R, 640], x: xc, y: { min: 531.23, max: 531.851, ticks: ticksLenC, off: lenOffsetC, dec: 1 }, yName: 'Length [pixel]', yGap: 35.5, offsetText: '+5.312e2' });
  circles(len, zip(timeC, lengthC));
  meanLine(len, meanLenC, meanLenErrC);
  const ang = addPlot({ box: [L, 659, R, 749], x: xc, y: { min: -54.1542, max: -54.0903, ticks: ticksAngC, off: angOffsetC, dec: 2 }, yName: 'Angle [deg]', yGap: 35.5, offsetText: '\u22125.409e1' });
  errorBars(ang, timeC.map((t, i) => { const e = i < angleErrC.length ? angleErrC[i] : angleErrRestC; return [t, angleC[i] - e, angleC[i] + e]; }));
  circles(ang, zip(timeC, angleC));
  meanLine(ang, meanAngC, meanAngErrC);
  const air = addPlot({ box: [L, 766, R, 858], x: xc, y: { min: 1.45, max: 1.75, ticks: ticksAirC, dec: 2 }, yName: 'Airmass', yGap: 35.5 });
  airmassLine(air, airTimeC, airmassC);
  const off = addPlot({ box: [L, 875, R, 966], x: xc, y: { min: -0.5, max: 0.4, ticks: ticksOffC, dec: 1 }, yName: 'Offset [pixel]', yGap: 33.5, xName: xNameC });
  offsets(off, '(c)', offXC, offYC, { right: 1100 - 508, top: 880 });
  titleText((L + R) / 2, 536, titleC);
  captionText(258, 1018, captionC);
}
// ---- panel (d)
{
  const L = 618, R = 1071, xd = { min: 0.1531, max: 0.1911, ticks: ticksXD, dec: 3 };
  const len = addPlot({ box: [L, 553, R, 642], x: xd, y: { min: 530.857, max: 531.4255, ticks: ticksLenD, off: lenOffsetD, dec: 1 }, yName: 'Length [pixel]', yGap: 28.5, offsetText: '+5.307e2' });
  circles(len, zip(timeD, lengthD));
  meanLine(len, meanLenD, meanLenErrD);
  const ang = addPlot({ box: [L, 658, R, 749], x: xd, y: { min: -54.1972, max: -54.1355, ticks: ticksAngD, off: angOffsetD, dec: 2 }, yName: 'Angle [deg]', yGap: 36.5, offsetText: '\u22125.413e1' });
  errorBars(ang, timeD.map((t, i) => [t, angleD[i] - angleErrD, angleD[i] + angleErrD]));
  circles(ang, zip(timeD, angleD));
  meanLine(ang, meanAngD, meanAngErrD);
  const air = addPlot({ box: [L, 767, R, 857], x: xd, y: { min: 1.476, max: 1.492, ticks: ticksAirD, dec: 3 }, yName: 'Airmass', yGap: 41.5 });
  airmassLine(air, airTimeD, airmassD);
  const off = addPlot({ box: [L, 875, R, 966], x: xd, y: { min: -0.4, max: 0.3, ticks: ticksOffD, dec: 1 }, yName: 'Offset [pixel]', yGap: 38.5, xName: xNameD });
  offsets(off, '(d)', zip(timeD, offXD), zip(timeD, offYD), { left: 623, top: 880 });
  titleText((L + R) / 2, 538, titleD);
  captionText(840, 1018, captionD);
}

const chart = echarts.init(document.getElementById('chart'), null, { renderer: 'canvas' });
chart.setOption(option);
</script>
</body>
</html>
